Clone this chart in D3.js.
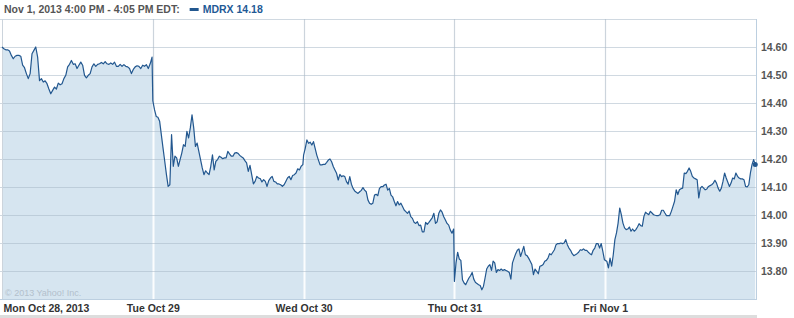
<!DOCTYPE html>
<html>
<head>
<meta charset="utf-8">
<script src="https://cdn.jsdelivr.net/npm/d3@7"></script>
<style>
body { margin: 0; background: #fff; }
text { font-family: "Liberation Sans", Arial, sans-serif; font-weight: bold; }
</style>
</head>
<body>
<div id="chart-container"></div>
<script>
//data
var dayLabels = ['Mon Oct 28, 2013', 'Tue Oct 29', 'Wed Oct 30', 'Thu Oct 31', 'Fri Nov 1'];
var yTicks = [13.80, 13.90, 14.00, 14.10, 14.20, 14.30, 14.40, 14.50, 14.60];
var symbol = 'MDRX',
    lastPrice = 14.18,
    headerText = 'Nov 1, 2013 4:00 PM - 4:05 PM EDT:',
    copyText = '\u00a9 2013 Yahoo! Inc.';

var mon = [14.600,14.594,14.590,14.590,14.586,14.570,14.558,14.567,14.570,14.570,14.567,14.535,14.526,14.505,14.487,14.505,14.576,14.588,14.600,14.564,14.480,14.487,14.475,14.479,14.469,14.450,14.433,14.445,14.457,14.450,14.471,14.465,14.469,14.487,14.499,14.529,14.538,14.552,14.538,14.540,14.523,14.535,14.546,14.535,14.499,14.490,14.499,14.505,14.529,14.540,14.531,14.538,14.540,14.545,14.540,14.548,14.540,14.538,14.543,14.538,14.546,14.531,14.531,14.538,14.531,14.537,14.531,14.529,14.523,14.505,14.520,14.529,14.533,14.531,14.523,14.535,14.531,14.537,14.523,14.540,14.564];
var tue = [14.408,14.376,14.352,14.349,14.335,14.287,14.239,14.192,14.144,14.102,14.108,14.287,14.174,14.210,14.204,14.174,14.198,14.221,14.251,14.245,14.299,14.275,14.311,14.358,14.311,14.245,14.257,14.227,14.198,14.168,14.144,14.158,14.150,14.144,14.174,14.215,14.161,14.192,14.198,14.210,14.206,14.201,14.204,14.204,14.227,14.218,14.210,14.210,14.221,14.223,14.220,14.213,14.208,14.204,14.194,14.186,14.156,14.177,14.144,14.111,14.120,14.138,14.132,14.130,14.118,14.126,14.120,14.102,14.123,14.132,14.138,14.120,14.118,14.111,14.111,14.108,14.102,14.108,14.120,14.132,14.138,14.126,14.141,14.144,14.150,14.165,14.161,14.174,14.180];
var wed = [14.214,14.238,14.268,14.256,14.260,14.250,14.262,14.238,14.214,14.196,14.179,14.179,14.181,14.181,14.188,14.196,14.200,14.190,14.173,14.161,14.149,14.125,14.145,14.137,14.140,14.137,14.119,14.110,14.137,14.110,14.095,14.086,14.081,14.077,14.083,14.088,14.098,14.089,14.083,14.054,14.042,14.038,14.042,14.071,14.074,14.069,14.095,14.101,14.101,14.107,14.110,14.089,14.095,14.071,14.065,14.048,14.033,14.048,14.036,14.042,14.030,14.018,14.012,14.006,14.014,13.994,13.988,13.974,13.970,13.976,13.962,13.964,13.940,13.940,13.974,13.967,13.974,13.982,13.990,14.006,13.970,13.976,14.006,14.018,14.010,13.994,13.982,13.970,13.964,13.946,13.935,13.950];
var thu = [13.763,13.829,13.867,13.843,13.838,13.769,13.757,13.751,13.763,13.775,13.783,13.795,13.771,13.760,13.755,13.751,13.748,13.733,13.745,13.775,13.807,13.817,13.823,13.802,13.835,13.829,13.795,13.805,13.802,13.807,13.802,13.805,13.802,13.799,13.795,13.771,13.829,13.846,13.862,13.874,13.879,13.852,13.869,13.888,13.858,13.855,13.846,13.835,13.823,13.787,13.807,13.799,13.790,13.817,13.819,13.823,13.835,13.838,13.846,13.862,13.858,13.867,13.876,13.894,13.898,13.898,13.900,13.898,13.900,13.912,13.894,13.882,13.874,13.862,13.855,13.858,13.862,13.867,13.876,13.874,13.879,13.874,13.874,13.867,13.862,13.858,13.874,13.882,13.898,13.898,13.882,13.898,13.870,13.840];
var fri = [13.838,13.835,13.811,13.846,13.817,13.858,13.912,13.936,13.971,14.025,14.001,13.971,13.954,13.948,13.950,13.957,13.942,13.950,13.942,13.948,13.957,13.969,13.962,13.960,13.995,14.010,14.005,14.001,14.013,14.007,14.001,13.999,13.998,13.998,14.001,14.017,14.017,14.007,13.998,13.998,13.998,14.013,14.031,14.049,14.090,14.073,14.090,14.094,14.096,14.150,14.148,14.156,14.168,14.156,14.138,14.132,14.129,14.126,14.061,14.096,14.102,14.096,14.090,14.093,14.102,14.105,14.108,14.114,14.124,14.114,14.096,14.085,14.096,14.120,14.150,14.132,14.117,14.102,14.114,14.132,14.129,14.150,14.138,14.132,14.129,14.129,14.126,14.102,14.100,14.108,14.150,14.180,14.198,14.180];

var days = [mon, tue, wed, thu, fri];

//containers
var container = d3.select('#chart-container'),
    svg,
    g;

//sizes
var outerW = 794,
    outerH = 318,
    plotLeft = 2,
    plotRight = 756,
    plotTop = 19,
    plotBottom = 299;

//scales
var xScale, yScale;

var lineColor = '#22578f',
    areaColor = '#d6e5f0',
    gridColor = '#ccd4dc';

function buildSeries() {
    var pts = [];
    days.forEach(function(arr, d) {
        arr.forEach(function(v, i) {
            pts.push({ t: d + i / (arr.length - 1) * 0.995, price: v });
        });
    });
    return pts;
}

function buildChart(series) {
    svg = container.append('svg')
        .attr('width', outerW)
        .attr('height', outerH);

    g = svg.append('g');

    //bottom gray band
    g.append('rect')
        .attr('x', 0).attr('y', 315)
        .attr('width', plotRight + 1).attr('height', 3)
        .attr('fill', '#dddddd');

    //vertical day lines (behind area)
    g.selectAll('.vgrid')
        .data(d3.range(1, days.length))
        .enter()
        .append('line')
        .attr('class', 'vgrid')
        .attr('x1', function(d) { return Math.round(xScale(d)) + 0.5; })
        .attr('x2', function(d) { return Math.round(xScale(d)) + 0.5; })
        .attr('y1', plotTop)
        .attr('y2', plotBottom)
        .attr('stroke', gridColor)
        .attr('stroke-width', 1.2);

    var area = d3.area()
        .x(function(d) { return xScale(d.t); })
        .y0(yScale(yScale.domain()[0]))
        .y1(function(d) { return yScale(d.price); });

    var line = d3.line()
        .x(function(d) { return xScale(d.t); })
        .y(function(d) { return yScale(d.price); });

    svg.append('clipPath')
        .attr('id', 'area-clip')
        .append('path')
        .attr('d', area(series));

    g.append('path')
        .datum(series)
        .attr('d', area)
        .attr('fill', areaColor);

    //white day separators inside the area
    g.selectAll('.vgrid-in')
        .data(d3.range(1, days.length))
        .enter()
        .append('line')
        .attr('class', 'vgrid-in')
        .attr('clip-path', 'url(#area-clip)')
        .attr('x1', function(d) { return Math.round(xScale(d)) + 0.5; })
        .attr('x2', function(d) { return Math.round(xScale(d)) + 0.5; })
        .attr('y1', plotTop)
        .attr('y2', plotBottom)
        .attr('stroke', '#fbfdfe')
        .attr('stroke-width', 2);

    //horizontal grid
    g.selectAll('.hgrid')
        .data(yTicks.concat([14.70]))
        .enter()
        .append('line')
        .attr('class', 'hgrid')
        .attr('x1', 0)
        .attr('x2', plotRight)
        .attr('y1', function(d) { return Math.round(yScale(d)) + 0.5; })
        .attr('y2', function(d) { return Math.round(yScale(d)) + 0.5; })
        .attr('stroke', '#a9b9c8')
        .attr('stroke-opacity', 0.55);

    //frame
    g.append('line')
        .attr('x1', plotLeft + 0.5).attr('x2', plotLeft + 0.5)
        .attr('y1', plotTop).attr('y2', plotBottom)
        .attr('stroke', gridColor);
    g.append('line')
        .attr('x1', plotRight + 0.5).attr('x2', plotRight + 0.5)
        .attr('y1', plotTop).attr('y2', plotBottom + 1)
        .attr('stroke', '#bccfe0');
    g.append('line')
        .attr('x1', 0).attr('x2', plotRight)
        .attr('y1', plotBottom + 0.5).attr('y2', plotBottom + 0.5)
        .attr('stroke', '#bccfe0');

    g.append('text')
        .attr('x', 5)
        .attr('y', 296)
        .attr('font-size', '9px')
        .style('font-weight', 'normal')
        .attr('fill', '#b3c0cc')
        .text(copyText);

    g.append('path')
        .datum(series)
        .attr('d', line)
        .attr('fill', 'none')
        .attr('stroke', lineColor)
        .attr('stroke-width', 1.2)
        .attr('stroke-linejoin', 'round');

    var last = series[series.length - 1];
    g.append('circle')
        .attr('cx', xScale(last.t))
        .attr('cy', yScale(last.price))
        .attr('r', 2.5)
        .attr('fill', lineColor);

    //right axis
    var yAxis = d3.axisRight(yScale)
        .tickValues(yTicks)
        .tickSize(0)
        .tickPadding(5)
        .tickFormat(d3.format('.2f'));

    g.append('g')
        .attr('transform', 'translate(' + plotRight + ',0)')
        .call(yAxis)
        .call(function(s) { s.select('.domain').remove(); })
        .selectAll('text')
        .attr('font-size', '10.5px')
        .attr('font-family', null)
        .attr('fill', '#555');

    //bottom labels
    var xAxis = d3.axisBottom(xScale)
        .tickValues(d3.range(days.length))
        .tickSize(0)
        .tickPadding(0)
        .tickFormat(function(d, i) { return dayLabels[i]; });

    var xg = g.append('g')
        .attr('transform', 'translate(0,' + 305 + ')')
        .call(xAxis)
        .call(function(s) { s.select('.domain').remove(); });

    xg.selectAll('text')
        .attr('font-size', '10.5px')
        .attr('font-family', null)
        .attr('fill', '#333')
        .attr('text-anchor', function(d, i) { return i == 0 ? 'start' : 'middle'; })
        .attr('dx', function(d, i) { return i == 0 ? 1 : 0; });

    //header
    var header = g.append('text')
        .attr('x', 4)
        .attr('y', 13)
        .attr('font-size', '10.5px')
        .attr('fill', '#555')
        .text(headerText);

    var hw = header.node().getComputedTextLength();

    g.append('rect')
        .attr('x', 4 + hw + 10)
        .attr('y', 8)
        .attr('width', 9)
        .attr('height', 3)
        .attr('fill', lineColor);

    g.append('text')
        .attr('x', 4 + hw + 23)
        .attr('y', 13)
        .attr('font-size', '10.5px')
        .attr('fill', '#1f5a96')
        .text(symbol + ' ' + lastPrice.toFixed(2));
}

function setupChart() {
    xScale = d3.scaleLinear().domain([0, days.length]).range([plotLeft, plotRight]);
    yScale = d3.scaleLinear().domain([13.70, 14.70]).range([plotBottom, plotTop]);
    buildChart(buildSeries());
}

setupChart();
</script>
</body>
</html>
